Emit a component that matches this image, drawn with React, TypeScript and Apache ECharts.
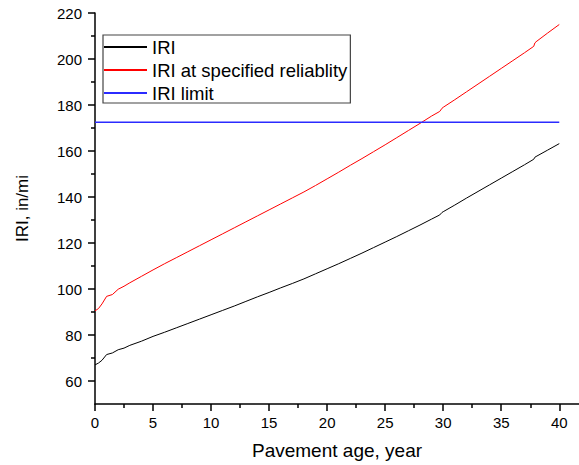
import React, { useEffect, useRef } from "react";
import * as echarts from "echarts";

const ages = [0, 0.3, 0.6, 1, 1.5, 2, 2.5, 3, 4, 5, 6, 7, 8, 9, 10, 11, 12, 13, 14, 15, 16, 17, 18, 19, 20, 21, 22, 23, 24, 25, 26, 27, 28, 29, 29.7, 29.9, 30, 31, 32, 33, 34, 35, 36, 37, 37.8, 37.9, 38, 39, 40];
const iri = [67, 67.8, 69, 71.5, 72.2, 73.6, 74.3, 75.5, 77.3, 79.4, 81.2, 83.1, 85, 86.9, 88.8, 90.7, 92.6, 94.6, 96.6, 98.5, 100.5, 102.4, 104.4, 106.6, 108.8, 111, 113.3, 115.6, 118, 120.4, 122.8, 125.3, 127.8, 130.4, 132.2, 133.3, 133.6, 136.5, 139.5, 142.4, 145.3, 148.2, 151.1, 154, 156.4, 157.3, 157.6, 160.4, 163.2];
const iriReliability = [90.5, 91.5, 93.5, 96.8, 97.6, 99.9, 101.2, 102.7, 105.5, 108.3, 111, 113.6, 116.2, 118.8, 121.4, 124, 126.6, 129.2, 131.8, 134.4, 137, 139.6, 142.2, 145, 147.9, 150.8, 153.8, 156.7, 159.7, 162.7, 165.8, 168.9, 172, 175.2, 177.2, 178.6, 179, 182.3, 185.7, 189.1, 192.5, 195.9, 199.3, 202.7, 205.5, 207, 207.5, 211.3, 215];
const limitAges = [0, 40];
const iriLimit = [172.5, 172.5];

const xMajor = [0, 5, 10, 15, 20, 25, 30, 35, 40];
const xMinor = [2.5, 7.5, 12.5, 17.5, 22.5, 27.5, 32.5, 37.5];
const yMajor = [60, 80, 100, 120, 140, 160, 180, 200, 220];
const yMinor = [70, 90, 110, 130, 150, 170, 190, 210];

const FONT = "'Liberation Sans', Arial, sans-serif";

export default function App() {
  const ref = useRef<HTMLDivElement>(null);
  useEffect(() => {
    if (!ref.current) return;
    const chart = echarts.init(ref.current, undefined, { renderer: "svg" });
    const axisLine = { show: true, onZero: false, lineStyle: { color: "#000", width: 1.5 } };
    const xMin = 0, xMax = 41.7, yMin = 50, yMax = 220;
    chart.setOption({
      animation: false,
      backgroundColor: "#fff",
      textStyle: { fontFamily: FONT },
      grid: { left: 95, right: 0, top: 13, bottom: 60, containLabel: false },
      legend: {
        orient: "vertical",
        left: 103,
        top: 35,
        itemWidth: 43,
        itemHeight: 18,
        itemGap: 3,
        padding: [2, 3, 0, 0],
        borderColor: "#444",
        borderWidth: 1.2,
        itemStyle: { color: "transparent", borderColor: "transparent", borderWidth: 0, opacity: 0 },
        textStyle: { fontSize: 18.5, lineHeight: 20, color: "#000", fontFamily: FONT },
        data: ["IRI", "IRI at specified reliablity", "IRI limit"],
      },
      xAxis: [
        {
          type: "value",
          min: xMin,
          max: xMax,
          position: "bottom",
          name: "Pavement age, year",
          nameLocation: "middle",
          nameGap: 37,
          nameTextStyle: { fontSize: 19, color: "#000", fontFamily: FONT },
          axisLine,
          axisTick: { show: true, length: 7, customValues: xMajor, lineStyle: { color: "#000", width: 1.5 } },
          axisLabel: { show: true, customValues: xMajor, margin: 11, fontSize: 15, color: "#000", fontFamily: FONT },
          splitLine: { show: false },
        },
        {
          type: "value",
          min: xMin,
          max: xMax,
          position: "bottom",
          axisLine: { show: false, onZero: false },
          axisTick: { show: true, length: 4, customValues: xMinor, lineStyle: { color: "#000", width: 1.5 } },
          axisLabel: { show: false },
          splitLine: { show: false },
        },
      ],
      yAxis: [
        {
          type: "value",
          min: yMin,
          max: yMax,
          position: "left",
          name: "IRI, in/mi",
          nameLocation: "middle",
          nameGap: 64,
          nameTextStyle: { fontSize: 17, color: "#000", fontFamily: FONT },
          axisLine,
          axisTick: { show: true, length: 7, customValues: yMajor, lineStyle: { color: "#000", width: 1.5 } },
          axisLabel: { show: true, customValues: yMajor, margin: 13, fontSize: 15, color: "#000", fontFamily: FONT },
          splitLine: { show: false },
        },
        {
          type: "value",
          min: yMin,
          max: yMax,
          position: "left",
          axisLine: { show: false, onZero: false },
          axisTick: { show: true, length: 4, customValues: yMinor, lineStyle: { color: "#000", width: 1.5 } },
          axisLabel: { show: false },
          splitLine: { show: false },
        },
      ],
      series: [
        {
          name: "IRI",
          type: "line",
          xAxisIndex: 0,
          yAxisIndex: 0,
          symbol: "none",
          smooth: false,
          lineStyle: { color: "#000", width: 1 },
          itemStyle: { color: "#000" },
          data: ages.map((a, i) => [a, iri[i]]),
        },
        {
          name: "IRI at specified reliablity",
          type: "line",
          xAxisIndex: 0,
          yAxisIndex: 0,
          symbol: "none",
          lineStyle: { color: "#ff0000", width: 1 },
          itemStyle: { color: "#ff0000" },
          data: ages.map((a, i) => [a, iriReliability[i]]),
        },
        {
          name: "IRI limit",
          type: "line",
          xAxisIndex: 0,
          yAxisIndex: 0,
          symbol: "none",
          lineStyle: { color: "#2b2bff", width: 1.3 },
          itemStyle: { color: "#2b2bff" },
          data: limitAges.map((a, i) => [a, iriLimit[i]]),
        },
      ],
    });
    return () => chart.dispose();
  }, []);
  return (
    <div
      ref={ref}
      style={{ position: "fixed", left: 0, top: 0, width: 579, height: 465, background: "#fff" }}
    />
  );
}
